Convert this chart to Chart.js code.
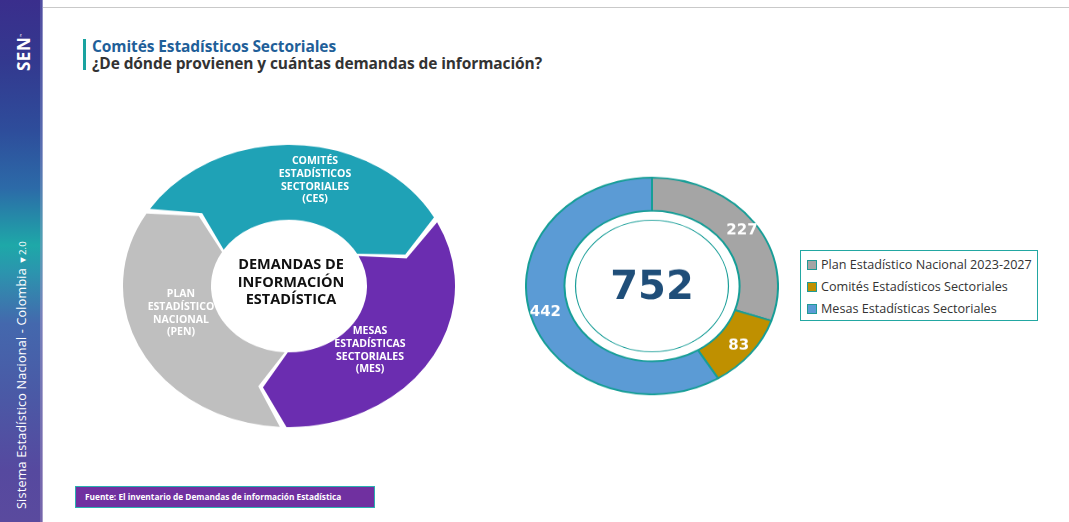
<!DOCTYPE html>
<html><head><meta charset="utf-8">
<script src="https://cdn.jsdelivr.net/npm/chart.js@4.4.1/dist/chart.umd.min.js"></script>
<style>
html,body{margin:0;padding:0;background:#fff;}
body{width:1069px;height:522px;position:relative;overflow:hidden;font-family:"Open Sans",sans-serif;}
.abs{position:absolute;}
#side{left:0;top:0;width:42px;height:522px;background:linear-gradient(to bottom,#3a2e8c 0%,#33398f 12%,#2e4d9b 25%,#2c6aa8 36%,#1ea8a8 47%,#2b95ae 52%,#4468ad 62%,#4a5aa6 75%,#56499f 90%,#5a4a9e 100%);}
#sideEdge{left:40px;top:0;width:3px;height:522px;background:linear-gradient(to bottom,#5a5aa8 0%,#6a7ab8 30%,#5fa0b8 45%,#8a8ac0 60%,#8070b0 100%);opacity:.7}
#topline{left:43px;top:7px;width:1026px;height:1px;background:#c9c9c9;}
.rot{transform-origin:0 0;transform:rotate(-90deg);white-space:nowrap;color:#fff;}
#t1{left:92px;top:35px;font-weight:700;font-size:15.5px;color:#1f5f99;letter-spacing:-0.1px}
#t2{left:92px;top:52px;font-weight:700;font-size:15.5px;color:#333;letter-spacing:-0.1px}
#tbar{left:83px;top:39px;width:3px;height:31px;background:#1aa3a0;}
#foot{left:75px;top:486px;background:#7030a0;border:1px solid #2ab0b0;color:#fff;font-weight:700;font-size:8.3px;padding-left:9px;box-sizing:border-box;width:300px;height:22px;line-height:20px;white-space:nowrap}
#legend{left:800px;top:250px;width:238px;height:71px;border:1.5px solid #22a7a2;box-sizing:border-box;font-size:12.6px;color:#333;}
.li{position:absolute;left:6px;height:16px;line-height:16px;white-space:nowrap}
.sw{display:inline-block;width:8px;height:8px;border:1px solid #1f9a96;margin-right:4px;vertical-align:-1px}
#leftWrap{left:123px;top:120px;width:332px;height:332px;transform:scaleY(0.85);transform-origin:50% 50%;}
#rightWrap{left:525px;top:159px;width:254px;height:254px;transform:scaleY(0.86);transform-origin:50% 50%;}
.lbl{position:absolute;text-align:center;font-weight:700;line-height:1.22;white-space:nowrap;transform:translateX(-50%);}
.w{color:#fff;font-size:10.5px;}
</style></head>
<body>
<div id="side" class="abs"></div>
<div id="sideEdge" class="abs"></div>
<div class="abs rot" style="left:12px;top:71px;font-weight:700;font-size:17px;letter-spacing:0.5px;">SEN<sup style="font-size:4px">™</sup></div>
<div class="abs rot" style="left:13px;top:509px;font-size:12.6px;font-weight:400;letter-spacing:0.2px;">Sistema Estadístico Nacional - Colombia <span style="font-size:9.5px">▼2.0</span></div>
<div id="topline" class="abs"></div>
<div id="tbar" class="abs"></div>
<div id="t1" class="abs">Comités Estadísticos Sectoriales</div>
<div id="t2" class="abs">¿De dónde provienen y cuántas demandas de información?</div>

<div id="leftWrap" class="abs"><canvas id="cycle" width="332" height="332"></canvas></div>
<div class="lbl w abs" style="left:315px;top:154px;">COMITÉS<br>ESTADÍSTICOS<br>SECTORIALES<br>(CES)</div>
<div class="lbl abs" style="left:291px;top:255px;font-size:14.5px;color:#111;line-height:1.22">DEMANDAS DE<br>INFORMACIÓN<br>ESTADÍSTICA</div>
<div class="lbl w abs" style="left:181px;top:287px;">PLAN<br>ESTADÍSTICO<br>NACIONAL<br>(PEN)</div>
<div class="lbl w abs" style="left:370px;top:324px;">MESAS<br>ESTADÍSTICAS<br>SECTORIALES<br>(MES)</div>

<div id="rightWrap" class="abs"><canvas id="donut" width="254" height="254"></canvas></div>

<div id="legend" class="abs"></div>
<div id="foot" class="abs">Fuente: El inventario de Demandas de información Estadística</div>

<script>
// ---- Data ----
const categories = ["Plan Estadístico Nacional 2023-2027", "Comités Estadísticos Sectoriales", "Mesas Estadísticas Sectoriales"];
const demandValues = [227, 83, 442];
const seriesColors = ["#a5a5a5", "#bf9000", "#5b9bd5"];
const totalLabel = "752";
const cycleSteps = ["CES", "MES", "PEN"];
const cycleShares = [1, 1, 1];
const cycleColors = ["#1fa2b6", "#6b2db0", "#bfbfbf"];

// legend
const lg = document.getElementById('legend');
categories.forEach((c, i) => {
  const d = document.createElement('div');
  d.className = 'li';
  d.style.top = (6 + i * 22) + 'px';
  d.innerHTML = '<span class="sw" style="background:' + seriesColors[i] + '"></span>' + c;
  lg.appendChild(d);
});

const SY = 0.86;
const donutPlugin = {
  id: 'donutExtras',
  afterDatasetsDraw(chart) {
    const ctx = chart.ctx;
    const meta = chart.getDatasetMeta(0);
    const a0 = meta.data[0];
    const cx = a0.x, cy = a0.y;
    ctx.save();
    ctx.beginPath();
    ctx.arc(cx, cy, a0.outerRadius * 0.607, 0, Math.PI * 2);
    ctx.strokeStyle = '#1a9e98';
    ctx.lineWidth = 1.2;
    ctx.stroke();
    ctx.restore();
    meta.data.forEach((arc, i) => {
      const mid = (arc.startAngle + arc.endAngle) / 2;
      const r = (arc.innerRadius + arc.outerRadius) / 2 + 4;
      const x = cx + Math.cos(mid) * r, y = cy + Math.sin(mid) * r;
      ctx.save();
      ctx.translate(x, y);
      ctx.scale(1, 1 / SY);
      ctx.font = 'bold 15px "DejaVu Sans"';
      ctx.fillStyle = '#fff';
      ctx.textAlign = 'center';
      ctx.textBaseline = 'middle';
      ctx.fillText(String(chart.data.datasets[0].data[i]), 0, 0);
      ctx.restore();
    });
    ctx.save();
    ctx.translate(cx, cy + 3);
    ctx.scale(1, 1 / SY);
    ctx.font = 'bold 40px "DejaVu Sans"';
    ctx.fillStyle = '#1f4e79';
    ctx.textAlign = 'center';
    ctx.textBaseline = 'middle';
    ctx.fillText(totalLabel, 0, 0);
    ctx.restore();
  }
};

new Chart(document.getElementById('donut'), {
  type: 'doughnut',
  data: { labels: categories, datasets: [{ data: demandValues, backgroundColor: seriesColors, borderColor: '#179e97', borderWidth: 2 }] },
  options: {
    responsive: false, animation: false, cutout: '69.5%',
    plugins: { legend: { display: false }, tooltip: { enabled: false } }
  },
  plugins: [donutPlugin]
});

const chevronPlugin = {
  id: 'chevron',
  beforeDatasetDraw(chart) {
    const ctx = chart.ctx;
    const meta = chart.getDatasetMeta(0);
    const head = 0.2;
    meta.data.forEach((arc, i) => {
      const { x, y, innerRadius: ri, outerRadius: ro } = arc;
      const s = arc.startAngle + 0.02, e = arc.endAngle - 0.02;
      const rm = (ri + ro) / 2;
      ctx.save();
      ctx.beginPath();
      ctx.arc(x, y, ro, s, e);
      ctx.lineTo(x + Math.cos(e + head) * rm, y + Math.sin(e + head) * rm);
      ctx.lineTo(x + Math.cos(e) * ri, y + Math.sin(e) * ri);
      ctx.arc(x, y, ri, e, s, true);
      ctx.lineTo(x + Math.cos(s + head) * rm, y + Math.sin(s + head) * rm);
      ctx.closePath();
      ctx.fillStyle = chart.data.datasets[0].backgroundColor[i];
      ctx.fill();
      ctx.restore();
    });
    return false;
  }
};

new Chart(document.getElementById('cycle'), {
  type: 'doughnut',
  data: { labels: cycleSteps, datasets: [{ data: cycleShares, backgroundColor: cycleColors, borderWidth: 0 }] },
  options: {
    responsive: false, animation: false, cutout: '47%', rotation: -58,
    plugins: { legend: { display: false }, tooltip: { enabled: false } }
  },
  plugins: [chevronPlugin]
});
</script>
</body></html>
